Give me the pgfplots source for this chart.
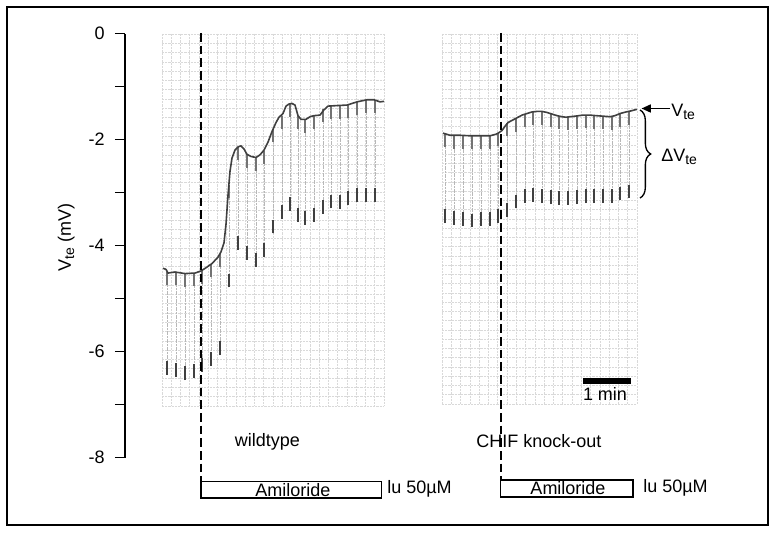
\documentclass[border=0pt]{standalone}
\usepackage{fontspec}
\setmainfont{Liberation Sans}
\usepackage{pgfplots}
\usepackage{pgfplotstable}
\pgfplotsset{compat=1.18}
\usetikzlibrary{decorations.pathreplacing, arrows.meta}
\newcommand\sub[1]{\raisebox{-0.32ex}{\fontsize{10.5}{12}\selectfont #1}}

% wildtype: pulse positions (x), trace level at pulse (top), tip of deflection (tip), mV
\pgfplotstableread{
x top tip
167 -4.50 -6.44
176 -4.50 -6.48
185 -4.53 -6.54
194 -4.52 -6.50
202 -4.48 -6.38
211 -4.35 -6.27
220 -4.16 -6.07
229 -2.85 -4.79
238 -2.14 -4.08
247 -2.28 -4.27
256 -2.34 -4.40
264 -2.22 -4.21
273 -1.80 -3.77
282 -1.55 -3.50
290 -1.32 -3.34
298 -1.55 -3.55
305 -1.62 -3.61
314 -1.55 -3.55
323 -1.42 -3.40
331 -1.37 -3.30
340 -1.36 -3.31
348 -1.35 -3.24
357 -1.29 -3.18
366 -1.25 -3.18
375 -1.25 -3.18
}\wtspikes

% CHIF knock-out
\pgfplotstableread{
x top tip
445 -1.89 -3.58
454 -1.92 -3.61
463 -1.92 -3.63
472 -1.93 -3.66
481 -1.93 -3.63
490 -1.93 -3.63
498 -1.88 -3.58
507 -1.69 -3.46
516 -1.60 -3.30
525 -1.52 -3.19
533 -1.48 -3.17
542 -1.47 -3.20
551 -1.52 -3.22
559 -1.56 -3.23
568 -1.58 -3.23
577 -1.56 -3.22
586 -1.54 -3.20
594 -1.55 -3.20
603 -1.56 -3.20
612 -1.57 -3.19
620 -1.51 -3.15
629 -1.47 -3.11
}\kospikes

\begin{document}
\fontsize{13.5}{16}\selectfont
\begin{tikzpicture}[font=\fontsize{13.5}{16}\selectfont]
% background (chart paper) in pixel coordinates
\begin{scope}[x=0.75pt, y=-0.75pt, shift={(-93.75pt,343.125pt)}]
  \path[use as bounding box] (0,0) rectangle (773,532);
  \draw[line width=1.5pt] (7,7) rectangle (768,525);
  \begin{scope}[black!15, line width=0.5pt, dash pattern=on 1.6pt off 0.8pt]
    \foreach \i in {0,...,24} {\draw (162+9.25*\i,34) -- (162+9.25*\i,406);}
    \foreach \i in {0,...,40} {\draw (162,34+9.3*\i) -- (384,34+9.3*\i);}
    \foreach \i in {0,...,21} {\draw (442+9.29*\i,34) -- (442+9.29*\i,404);}
    \foreach \i in {0,...,40} {\draw (442,34+9.25*\i) -- (637,34+9.25*\i);}
  \end{scope}
\end{scope}

\begin{axis}[
  scale only axis, width=480pt, height=318pt,
  xmin=125, xmax=765, ymin=-8, ymax=0,
  axis x line=none, axis y line=left,
  axis line style={-, line width=0.8pt},
  ytick={0,-1,-2,-3,-4,-5,-6,-7,-8},
  yticklabels={0,,-2,,-4,,-6,,-8},
  tick align=outside, major tick length=7.5pt,
  tick style={line width=0.8pt, black},
  yticklabel style={xshift=-3pt},
  ylabel={V\sub{te} (mV)},
  every axis y label/.style={at={(axis description cs:0,0.519)}, xshift=-44pt, rotate=90, anchor=center},
  clip=false,
  spk/.style={draw=none, mark=none, forget plot, /pgfplots/error bars/error mark=none},
]
% pulse deflections (light trace)
\addplot[spk, error bars/.cd, y dir=minus, y explicit,
  error bar style={draw=black!28, line width=0.6pt, dash pattern=on 1.5pt off 0.5pt}]
  table[x=x, y=top, y error expr=\thisrow{top}-\thisrow{tip}] {\wtspikes};
\addplot[spk, error bars/.cd, y dir=minus, y explicit,
  error bar style={draw=black!28, line width=0.6pt, dash pattern=on 1.5pt off 0.5pt}]
  table[x=x, y=top, y error expr=\thisrow{top}-\thisrow{tip}] {\kospikes};
% darker start of deflections
\addplot[spk, error bars/.cd, y dir=minus, y fixed=0.25,
  error bar style={draw=black!55, line width=1pt}] table[x=x, y=top] {\wtspikes};
\addplot[spk, error bars/.cd, y dir=minus, y fixed=0.25,
  error bar style={draw=black!55, line width=1pt}] table[x=x, y=top] {\kospikes};
% dark tips
\addplot[spk, error bars/.cd, y dir=plus, y fixed=0.26,
  error bar style={draw=black!75, line width=1.6pt}] table[x=x, y=tip] {\wtspikes};
\addplot[spk, error bars/.cd, y dir=plus, y fixed=0.26,
  error bar style={draw=black!75, line width=1.6pt}] table[x=x, y=tip] {\kospikes};
% V_te traces
\addplot[black!75, line width=1.2pt, line join=round, mark=none] coordinates {
(163,-4.43) (166,-4.45) (168,-4.52) (175,-4.50) (185,-4.53) (195,-4.52) (201,-4.48)
(206,-4.42) (212,-4.34) (218,-4.22) (221,-4.12) (224,-3.95) (226,-3.6) (228,-3.05)
(230,-2.6) (232,-2.35) (235,-2.2) (238,-2.14) (241,-2.12) (244,-2.18) (247,-2.28)
(251,-2.32) (256,-2.34) (260,-2.29) (264,-2.2) (268,-2.05) (272,-1.85) (276,-1.68)
(279,-1.58) (283,-1.51) (286,-1.37) (289,-1.33) (292,-1.32) (295,-1.35) (298,-1.55)
(301,-1.62) (306,-1.62) (310,-1.57) (314,-1.55) (320,-1.54) (324,-1.44) (328,-1.37)
(337,-1.36) (347,-1.35) (352,-1.32) (357,-1.29) (367,-1.25) (374,-1.25) (380,-1.29) (384,-1.28)
};
\addplot[black!75, line width=1.2pt, line join=round, mark=none] coordinates {
(443,-1.88) (450,-1.92) (460,-1.92) (470,-1.93) (480,-1.93) (490,-1.93) (496,-1.90)
(499,-1.87) (502,-1.83) (505,-1.75) (508,-1.68) (512,-1.64) (517,-1.59) (522,-1.54)
(527,-1.51) (532,-1.48) (537,-1.47) (542,-1.47) (547,-1.49) (552,-1.52) (557,-1.55)
(562,-1.57) (566,-1.58) (570,-1.57) (575,-1.56) (583,-1.54) (590,-1.54) (596,-1.55)
(603,-1.56) (610,-1.57) (615,-1.55) (620,-1.51) (626,-1.48) (631,-1.46) (637,-1.43)
};
\end{axis}

% annotations in pixel coordinates
\begin{scope}[x=0.75pt, y=-0.75pt, shift={(-93.75pt,343.125pt)}]
  \draw[line width=1.2pt, dash pattern=on 6.5pt off 3pt] (201,33) -- (201,481.5);
  \draw[line width=1.2pt, dash pattern=on 6.5pt off 3pt] (500.7,33) -- (500.7,480);
  \draw[line width=0.8pt] (201,481.5) rectangle (381.5,498);
  \draw[line width=0.8pt] (500.7,480) rectangle (633,497);
  \node[inner sep=0pt] at (293,490) {Amiloride};
  \node[inner sep=0pt] at (568,488.5) {Amiloride};
  \node[anchor=west, inner sep=0pt] at (387,489) {lu 50µM};
  \node[anchor=west, inner sep=0pt] at (643,488) {lu 50µM};
  \node[inner sep=0pt] at (267.5,441.5) {wildtype};
  \node[inner sep=0pt] at (539,441.5) {CHIF knock-out};
  \fill[black] (583,377.5) rectangle (631,383.5);
  \node[inner sep=0pt] at (605,394) {1 min};
  \draw[line width=1.2pt, -{Triangle[length=7pt, width=6pt]}] (670,108.5) -- (641.5,108.5);
  \node[anchor=west, inner sep=0pt] at (671,112) {V\sub{te}};
  \draw[line width=1pt, decorate, decoration={brace, amplitude=8pt}] (640,110) -- (640,198);
  \node[anchor=west, inner sep=0pt] at (661,157) {ΔV\sub{te}};
\end{scope}
\end{tikzpicture}
\end{document}
